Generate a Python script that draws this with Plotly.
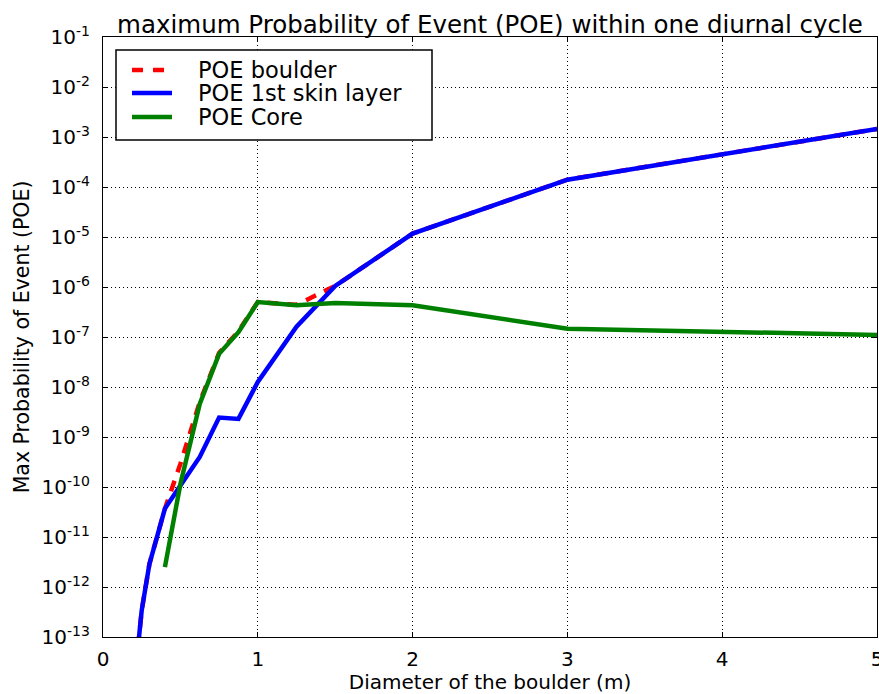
import plotly.graph_objects as go

# Boulder diameters (m) and maximum probability of event per diurnal cycle
diam_boulder = [0.2, 0.25, 0.3, 0.4, 0.5, 0.625, 0.75, 0.875, 1.0, 1.25, 1.5, 2.0, 3.0, 5.0]
poe_boulder = [1e-14, 3.4e-13, 2.9e-12, 3.7e-11, 2.9e-10, 5.0e-9, 4.8e-8, 1.3e-7,
               5.0e-7, 4.4e-7, 1.05e-6, 1.17e-5, 1.4e-4, 1.45e-3]

diam_skin = [0.2, 0.25, 0.3, 0.4, 0.5, 0.625, 0.75, 0.875, 1.0, 1.25, 1.5, 2.0, 3.0, 5.0]
poe_skin = [1e-14, 3.4e-13, 2.9e-12, 3.7e-11, 1.07e-10, 4.0e-10, 2.45e-9, 2.3e-9,
            1.26e-8, 1.6e-7, 1.05e-6, 1.17e-5, 1.4e-4, 1.45e-3]

diam_core = [0.4, 0.5, 0.625, 0.75, 0.875, 1.0, 1.25, 1.5, 2.0, 3.0, 5.0]
poe_core = [2.5e-12, 1.15e-10, 4.6e-9, 4.6e-8, 1.25e-7, 5.0e-7, 4.3e-7, 4.8e-7,
            4.3e-7, 1.47e-7, 1.1e-7]

x_ticks = [0, 1, 2, 3, 4, 5]
y_exponents = list(range(-13, 0))
y_tickvals = [10.0 ** e for e in y_exponents]
y_ticktext = ["10<sup>%d</sup>" % e for e in y_exponents]

series_names = ["POE boulder", "POE 1st skin layer", "POE Core"]
series_colors = ["#ff0000", "#0000ff", "#008000"]
series_dash = ["11px,9px", "solid", "solid"]

FONT = "DejaVu Sans"
LW = 4.5

fig = go.Figure()
for xs, ys, name, color, dash in zip([diam_boulder, diam_skin, diam_core],
                                     [poe_boulder, poe_skin, poe_core],
                                     series_names, series_colors, series_dash):
    fig.add_trace(go.Scatter(x=xs, y=ys, mode="lines", name=name,
                             line=dict(color=color, width=LW, dash=dash)))

W, H = 879, 694
L, R, T, B = 103, 2, 37, 57
pw, ph = W - L - R, H - T - B


def px_x(p):
    return (p - L) / pw


def px_y(p):
    return 1 - (p - T) / ph


axis_common = dict(
    showline=True, linecolor="black", linewidth=1.2, mirror="ticks",
    ticks="inside", ticklen=5, tickwidth=1, tickcolor="black",
    showgrid=True, gridcolor="black", gridwidth=1, griddash="1px,3px",
    zeroline=False, automargin=False,
    tickfont=dict(family=FONT, size=20, color="black"),
)

fig.update_xaxes(range=[0, 5], tickvals=x_ticks, ticktext=[str(v) for v in x_ticks],
                 title=dict(text="Diameter of the boulder (m)",
                            font=dict(family=FONT, size=20, color="black"), standoff=4),
                 ticklabelstandoff=4, ticklabeloverflow="allow", **axis_common)
fig.update_yaxes(type="log", range=[-13, -1], tickvals=y_tickvals, ticktext=y_ticktext,
                 title=dict(text="Max Probability of Event (POE)",
                            font=dict(family=FONT, size=20.5, color="black"), standoff=6),
                 ticklabelstandoff=8, **axis_common)

# legend: frame, line samples and labels
fig.add_shape(type="rect", xref="paper", yref="paper",
              x0=px_x(116), x1=px_x(432), y0=px_y(140), y1=px_y(50),
              line=dict(color="black", width=1.5), fillcolor="white", layer="above")
row_y = [70, 93, 117]
for ry, name, color, dash in zip(row_y, series_names, series_colors, series_dash):
    fig.add_shape(type="line", xref="paper", yref="paper",
                  x0=px_x(132), x1=px_x(172), y0=px_y(ry), y1=px_y(ry),
                  line=dict(color=color, width=LW, dash="11px,10px" if dash != "solid" else "solid"),
                  layer="above")
    fig.add_annotation(text=name, xref="paper", yref="paper", x=px_x(196), y=px_y(ry),
                       xanchor="left", yanchor="middle", showarrow=False,
                       font=dict(family=FONT, size=22.5, color="black"))

fig.update_layout(
    width=W, height=H,
    margin=dict(l=L, r=R, t=T, b=B, autoexpand=False),
    paper_bgcolor="white", plot_bgcolor="white",
    font=dict(family=FONT, color="black"),
    title=dict(text="maximum Probability of Event (POE) within one diurnal cycle",
               font=dict(family=FONT, size=24.5, color="black"),
               x=0.5, xref="paper", xanchor="center",
               y=1, yref="paper", yanchor="bottom", pad=dict(b=4)),
    showlegend=False,
)

fig.write_html("out.html")
